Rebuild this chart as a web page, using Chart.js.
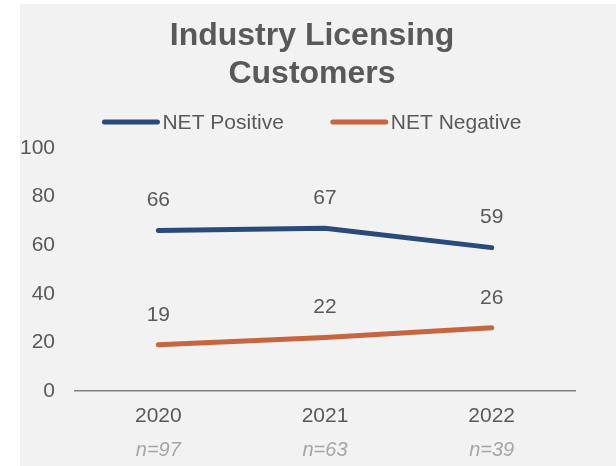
<!DOCTYPE html>
<html>
<head>
<meta charset="utf-8">
<script src="https://cdn.jsdelivr.net/npm/chart.js@4.4.1/dist/chart.umd.min.js"></script>
<style>
  html, body { margin: 0; padding: 0; background: #ffffff; }
  #panel {
    position: absolute; left: 20px; top: 4px;
    width: 596px; height: 462px; background: #f2f2f2;
  }
  #panel canvas { display: block; }
</style>
</head>
<body>
<div id="panel"><canvas id="licensing-trend" width="596" height="462"></canvas></div>
<script>
var titleLines = ['Industry Licensing', 'Customers'];
var years = ['2020', '2021', '2022'];
var sampleSizes = ['n=97', 'n=63', 'n=39'];
var netPositive = [66, 67, 59];
var netNegative = [19, 22, 26];
var yTicks = [0, 20, 40, 60, 80, 100];

var textGrey = '#595959';
var blue = '#2a4a7c';
var orange = '#c6653f';

Chart.defaults.font.family = '"Liberation Sans", Arial, sans-serif';
Chart.defaults.color = textGrey;

// title + line legend drawn above the plot
var header = {
    id: 'header',
    afterDraw: function (chart) {
        var ctx = chart.ctx;
        var cx = 292;
        ctx.save();
        ctx.fillStyle = textGrey;
        ctx.textAlign = 'center';
        ctx.textBaseline = 'alphabetic';
        ctx.font = 'bold 32px "Liberation Sans", Arial, sans-serif';
        ctx.fillText(titleLines[0], cx, 41);
        ctx.fillText(titleLines[1], cx, 79);

        ctx.font = '21px "Liberation Sans", Arial, sans-serif';
        var lineLen = 57, gap = 3, itemGap = 47;
        var sets = chart.data.datasets;
        var widths = sets.map(function (ds) {
            return lineLen + gap + ctx.measureText(ds.label).width;
        });
        var total = widths.reduce(function (a, b) { return a + b; }, 0) + itemGap * (sets.length - 1);
        var x = cx - total / 2;
        var y = 118;
        sets.forEach(function (ds, i) {
            ctx.strokeStyle = ds.borderColor;
            ctx.lineWidth = 5;
            ctx.lineCap = 'round';
            ctx.beginPath();
            ctx.moveTo(x + 2, y);
            ctx.lineTo(x + lineLen - 2, y);
            ctx.stroke();
            ctx.textAlign = 'left';
            ctx.textBaseline = 'middle';
            ctx.fillText(ds.label, x + lineLen + gap, y + 1);
            x += widths[i] + itemGap;
        });
        ctx.restore();
    }
};

// value labels above each point
var pointValues = {
    id: 'pointValues',
    afterDatasetsDraw: function (chart) {
        var ctx = chart.ctx;
        ctx.save();
        ctx.fillStyle = textGrey;
        ctx.font = '21px "Liberation Sans", Arial, sans-serif';
        ctx.textAlign = 'center';
        ctx.textBaseline = 'middle';
        chart.data.datasets.forEach(function (ds, i) {
            chart.getDatasetMeta(i).data.forEach(function (pt, j) {
                ctx.fillText(ds.data[j], pt.x, pt.y - 30);
            });
        });
        ctx.restore();
    }
};

new Chart(document.getElementById('licensing-trend'), {
    type: 'line',
    data: {
        labels: years,
        datasets: [{
            label: 'NET Positive',
            data: netPositive,
            borderColor: blue,
            backgroundColor: blue
        }, {
            label: 'NET Negative',
            data: netNegative,
            borderColor: orange,
            backgroundColor: orange
        }]
    },
    options: {
        responsive: false,
        animation: false,
        layout: { padding: { top: 144, right: 41, bottom: 0, left: 0 } },
        elements: {
            line: { borderWidth: 5, tension: 0, borderCapStyle: 'round', borderJoinStyle: 'round' },
            point: { radius: 0, hoverRadius: 0 }
        },
        plugins: {
            legend: { display: false },
            title: { display: false },
            tooltip: { enabled: false }
        },
        scales: {
            x: {
                offset: true,
                grid: { display: false, drawTicks: false },
                border: { display: true, color: '#808080', width: 1.5 },
                ticks: { padding: 13, font: { size: 21 }, color: textGrey },
                afterFit: function (scale) { scale.height = 40; }
            },
            x2: {
                type: 'category',
                position: 'bottom',
                labels: sampleSizes,
                offset: true,
                grid: { display: false, drawTicks: false },
                border: { display: false },
                ticks: { padding: 7, font: { size: 20, style: 'italic' }, color: '#a6a6a6' },
                afterFit: function (scale) { scale.height = 35; }
            },
            y: {
                min: 0,
                max: 100,
                grid: { display: false, drawTicks: false },
                border: { display: false },
                afterBuildTicks: function (scale) {
                    scale.ticks = yTicks.map(function (v) { return { value: v }; });
                },
                ticks: { padding: 20, font: { size: 21 }, color: textGrey },
                afterFit: function (scale) { scale.width = 55; }
            }
        }
    },
    plugins: [header, pointValues]
});
</script>
</body>
</html>
